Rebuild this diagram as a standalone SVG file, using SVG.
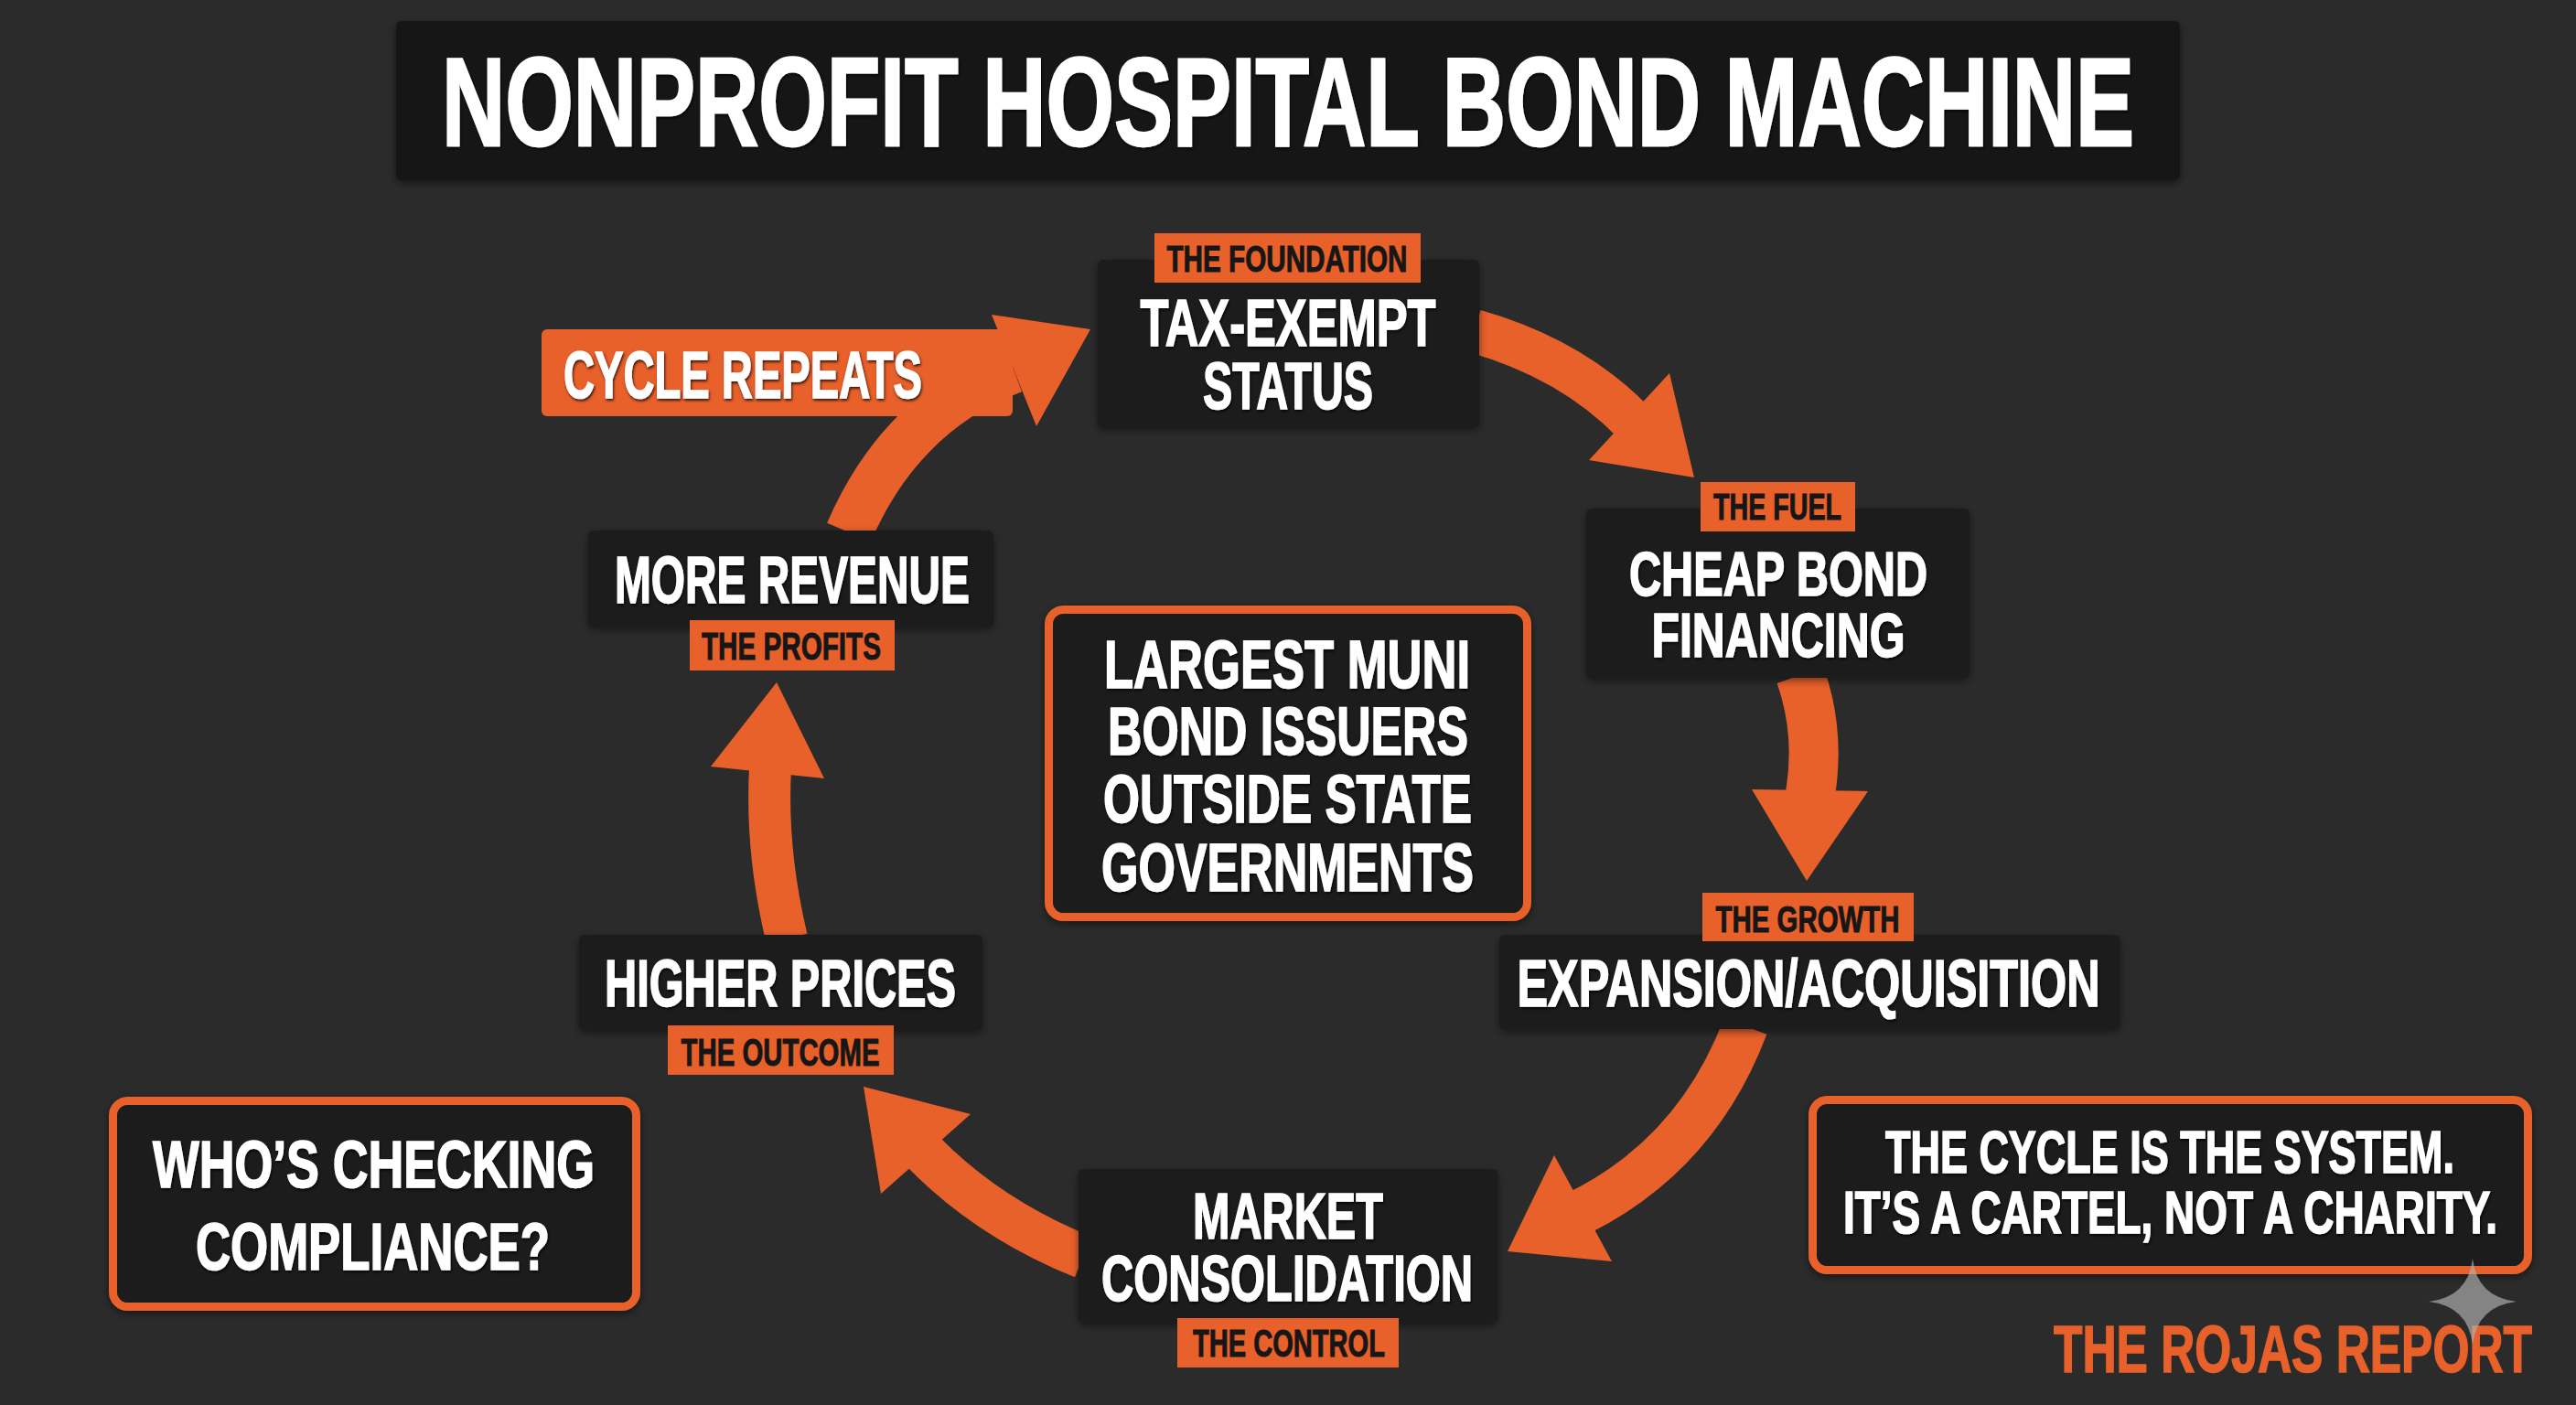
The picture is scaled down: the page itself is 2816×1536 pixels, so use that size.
<svg xmlns="http://www.w3.org/2000/svg" width="2816" height="1536" viewBox="0 0 2816 1536">
<defs>
<style>
.bg{fill:#2b2b2b}
.box{fill:#1a1a1a}
.obox{fill:#1a1a1a;stroke:#e8602a;stroke-width:9}
.tag{fill:#e8602a}
.t{font-family:"Liberation Sans","DejaVu Sans",Arial,sans-serif;font-weight:bold;text-anchor:middle}
.w{fill:#ffffff;stroke:#ffffff;stroke-width:1.6;filter:url(#tsh)}
.d{fill:#161616;stroke:#161616;stroke-width:1}
.o{fill:#e8602a;stroke:#e8602a;stroke-width:1.6}
.shaft{fill:none;stroke:#e8602a;stroke-linecap:butt}
.head{fill:#e8602a}
</style>
<filter id="sh" x="-10%" y="-10%" width="120%" height="130%">
<feDropShadow dx="0" dy="3" stdDeviation="4" flood-color="#000" flood-opacity="0.5"/>
</filter>
<filter id="tsh" x="-5%" y="-20%" width="110%" height="140%">
<feDropShadow dx="1" dy="2" stdDeviation="1.5" flood-color="#000" flood-opacity="0.8"/>
</filter>
</defs>
<rect class="bg" x="0" y="0" width="2816" height="1536"/>

<g id="title">
<rect x="433" y="23" width="1950" height="174" rx="6" fill="#161616" filter="url(#sh)"/>
<text class="t w" x="1408" y="159" font-size="137" textLength="1850" lengthAdjust="spacingAndGlyphs" style="stroke-width:2.5">NONPROFIT HOSPITAL BOND MACHINE</text>
</g>

<g id="connectors">
<path class="shaft" stroke-width="52" d="M928 582 Q985 450 1108 404"/>
<polygon class="head" points="1084,344 1192,360 1133,466"/>
<path class="shaft" stroke-width="48" d="M1612 362 Q1718 392 1786 462"/>
<polygon class="head" points="1825,408 1852,522 1737,503"/>
<path class="shaft" stroke-width="54" d="M1968 738 Q1990 800 1979 868"/>
<polygon class="head" points="1915,863 2042,865 1975,963"/>
<path class="shaft" stroke-width="50" d="M1908 1122 Q1855 1262 1726 1326"/>
<polygon class="head" points="1699,1263 1648,1368 1762,1379"/>
<path class="shaft" stroke-width="48" d="M1184 1374 Q1080 1332 1008 1258"/>
<polygon class="head" points="1061,1218 944,1188 963,1305"/>
<path class="shaft" stroke-width="46" d="M860 1026 Q837 930 842 840"/>
<polygon class="head" points="777,838 849,746 901,851"/>
</g>

<g id="cycle-repeats">
<rect x="592" y="360" width="515" height="95" rx="6" class="tag"/>
<text class="t w" x="812" y="435" font-size="73" textLength="392" lengthAdjust="spacingAndGlyphs">CYCLE REPEATS</text>
</g>

<g id="node-tax-exempt">
<rect class="box" x="1200" y="284" width="417" height="183" rx="6" filter="url(#sh)"/>
<rect class="tag" x="1262" y="255" width="291" height="54"/>
<text class="t d" x="1407" y="297" font-size="40" textLength="263" lengthAdjust="spacingAndGlyphs">THE FOUNDATION</text>
<text class="t w" x="1408" y="378" font-size="72" textLength="323" lengthAdjust="spacingAndGlyphs">TAX-EXEMPT</text>
<text class="t w" x="1408" y="447" font-size="72" textLength="186" lengthAdjust="spacingAndGlyphs">STATUS</text>
</g>

<g id="node-cheap-bond">
<rect class="box" x="1734" y="556" width="419" height="185" rx="6" filter="url(#sh)"/>
<rect class="tag" x="1859" y="527" width="169" height="54"/>
<text class="t d" x="1943" y="568" font-size="40" textLength="140" lengthAdjust="spacingAndGlyphs">THE FUEL</text>
<text class="t w" x="1944" y="651" font-size="68" textLength="326" lengthAdjust="spacingAndGlyphs">CHEAP BOND</text>
<text class="t w" x="1944" y="718" font-size="68" textLength="277" lengthAdjust="spacingAndGlyphs">FINANCING</text>
</g>

<g id="node-expansion">
<rect class="box" x="1639" y="1022" width="678" height="103" rx="6" filter="url(#sh)"/>
<rect class="tag" x="1861" y="976" width="231" height="53"/>
<text class="t d" x="1976" y="1019" font-size="40" textLength="201" lengthAdjust="spacingAndGlyphs">THE GROWTH</text>
<text class="t w" x="1977" y="1100" font-size="72" textLength="637" lengthAdjust="spacingAndGlyphs">EXPANSION/ACQUISITION</text>
</g>

<g id="node-market">
<rect class="box" x="1179" y="1278" width="458" height="168" rx="6" filter="url(#sh)"/>
<rect class="tag" x="1287" y="1441" width="242" height="54"/>
<text class="t d" x="1409" y="1483" font-size="42" textLength="210" lengthAdjust="spacingAndGlyphs">THE CONTROL</text>
<text class="t w" x="1408" y="1354" font-size="70" textLength="208" lengthAdjust="spacingAndGlyphs">MARKET</text>
<text class="t w" x="1407" y="1422" font-size="70" textLength="406" lengthAdjust="spacingAndGlyphs">CONSOLIDATION</text>
</g>

<g id="node-higher-prices">
<rect class="box" x="633" y="1022" width="441" height="104" rx="6" filter="url(#sh)"/>
<rect class="tag" x="730" y="1121" width="247" height="54"/>
<text class="t d" x="853" y="1165" font-size="43" textLength="217" lengthAdjust="spacingAndGlyphs">THE OUTCOME</text>
<text class="t w" x="853" y="1100" font-size="72" textLength="384" lengthAdjust="spacingAndGlyphs">HIGHER PRICES</text>
</g>

<g id="node-more-revenue">
<rect class="box" x="643" y="580" width="443" height="105" rx="6" filter="url(#sh)"/>
<rect class="tag" x="754" y="678" width="224" height="55"/>
<text class="t d" x="865" y="721" font-size="42" textLength="196" lengthAdjust="spacingAndGlyphs">THE PROFITS</text>
<text class="t w" x="866" y="659" font-size="72" textLength="388" lengthAdjust="spacingAndGlyphs">MORE REVENUE</text>
</g>

<g id="center-fact">
<rect class="obox" x="1146.5" y="666.5" width="523" height="336" rx="16" filter="url(#sh)"/>
<text class="t w" x="1407" y="752" font-size="74" textLength="400" lengthAdjust="spacingAndGlyphs">LARGEST MUNI</text>
<text class="t w" x="1408" y="825" font-size="74" textLength="394" lengthAdjust="spacingAndGlyphs">BOND ISSUERS</text>
<text class="t w" x="1407.5" y="899" font-size="74" textLength="403" lengthAdjust="spacingAndGlyphs">OUTSIDE STATE</text>
<text class="t w" x="1407.5" y="974" font-size="74" textLength="407" lengthAdjust="spacingAndGlyphs">GOVERNMENTS</text>
</g>

<g id="compliance">
<rect class="obox" x="123.5" y="1203.5" width="572" height="225" rx="16" filter="url(#sh)"/>
<text class="t w" x="408.5" y="1298" font-size="73" textLength="483" lengthAdjust="spacingAndGlyphs">WHO’S CHECKING</text>
<text class="t w" x="407.5" y="1388" font-size="73" textLength="387" lengthAdjust="spacingAndGlyphs">COMPLIANCE?</text>
</g>

<g id="cartel">
<rect class="obox" x="1981.5" y="1202.5" width="782" height="186" rx="16" filter="url(#sh)"/>
<text class="t w" x="2372" y="1282" font-size="65" textLength="622" lengthAdjust="spacingAndGlyphs">THE CYCLE IS THE SYSTEM.</text>
<text class="t w" x="2372.5" y="1348" font-size="65" textLength="715" lengthAdjust="spacingAndGlyphs">IT’S A CARTEL, NOT A CHARITY.</text>
</g>

<g id="brand">
<text class="t o" x="2506.5" y="1500" font-size="73" textLength="523" lengthAdjust="spacingAndGlyphs">THE ROJAS REPORT</text>
<path d="M2703 1376 Q2708 1418 2751 1423 Q2708 1428 2703 1470 Q2698 1428 2655 1423 Q2698 1418 2703 1376 Z" fill="#b4b4b4" fill-opacity="0.65"/>
</g>
</svg>
